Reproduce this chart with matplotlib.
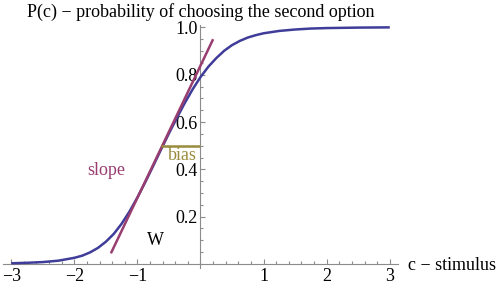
import matplotlib
matplotlib.use("Agg")
import matplotlib.pyplot as plt
from matplotlib.ticker import MultipleLocator, FixedLocator, FuncFormatter

plt.rcParams["font.family"] = ["Liberation Serif", "DejaVu Serif"]

# psychometric curve
stimulus = [-3.0, -2.75, -2.5, -2.25, -2.0, -1.875, -1.75, -1.625, -1.5, -1.375,
            -1.25, -1.125, -1.0, -0.875, -0.75, -0.625, -0.5, -0.375, -0.25, -0.125,
            0.0, 0.125, 0.25, 0.375, 0.5, 0.625, 0.75, 0.875, 1.0, 1.25,
            1.5, 1.75, 2.0, 2.5, 3.0]
prob = [0.003, 0.005, 0.008, 0.014, 0.026, 0.035, 0.049, 0.068, 0.094, 0.127,
        0.170, 0.222, 0.281, 0.346, 0.414, 0.484, 0.552, 0.617, 0.680, 0.738,
        0.790, 0.834, 0.870, 0.901, 0.925, 0.943, 0.957, 0.967, 0.975, 0.985,
        0.991, 0.995, 0.997, 0.999, 1.0]

# tangent ("slope") and the bias marker
slope_c = [-1.42, 0.20]
slope_p = [0.045, 0.950]
bias_c = [-0.62, 0.0]
bias_p = [0.5, 0.5]

x_ticks = [-3, -2, -1, 1, 2, 3]
y_ticks = [0.2, 0.4, 0.6, 0.8, 1.0]

BLUE = "#3f3d99"
PURPLE = "#993d71"
OLIVE = "#998b3d"
AXIS = "#8c8c8c"
FS = 13

fig = plt.figure(figsize=(4.98, 2.86), dpi=100)
ax = fig.add_axes([3 / 498, 18 / 286, 395 / 498, 243 / 286])

ax.plot(stimulus, prob, color=BLUE, lw=1.8, solid_capstyle="butt", zorder=3)
ax.plot(slope_c, slope_p, color=PURPLE, lw=1.8, solid_capstyle="butt", zorder=4)
ax.plot(bias_c, bias_p, color=OLIVE, lw=1.8, solid_capstyle="butt", zorder=4)

ax.set_xlim(-3.13, 3.13)
ax.set_ylim(-0.017, 1.01)

for side in ("top", "right"):
    ax.spines[side].set_visible(False)
for side in ("left", "bottom"):
    ax.spines[side].set_position(("data", 0))
    ax.spines[side].set_color(AXIS)
    ax.spines[side].set_linewidth(0.8)

ax.xaxis.set_major_locator(FixedLocator(x_ticks))
ax.xaxis.set_minor_locator(MultipleLocator(0.2))
ax.yaxis.set_major_locator(FixedLocator(y_ticks))
ax.yaxis.set_minor_locator(MultipleLocator(0.05))
ax.xaxis.set_major_formatter(FuncFormatter(lambda v, _: f"{v:.0f}".replace("-", "\u2212")))
ax.yaxis.set_major_formatter(FuncFormatter(lambda v, _: f"{v:.1f}"))

ax.tick_params(which="both", direction="in", color=AXIS, width=0.8, labelsize=FS)
ax.tick_params(which="major", length=3.3)
ax.tick_params(which="minor", length=1.9)
ax.tick_params(axis="x", pad=3)
ax.tick_params(axis="y", pad=2)

ax.text(-1.50, 0.394, "slope", color=PURPLE, fontsize=FS, ha="center", va="center")
ax.text(-0.29, 0.46, "bias", color=OLIVE, fontsize=FS, ha="center", va="center")
ax.text(-0.71, 0.10, "W", color="black", fontsize=FS, ha="center", va="center")

fig.text(27 / 498, 1 - 12 / 286, "P(c) \u2212 probability of choosing the second option",
         fontsize=FS, ha="left", va="center")
fig.text(408 / 498, 1 - 265 / 286, "c \u2212 stimulus", fontsize=FS, ha="left", va="center")

fig.savefig("out.png", dpi=100)
